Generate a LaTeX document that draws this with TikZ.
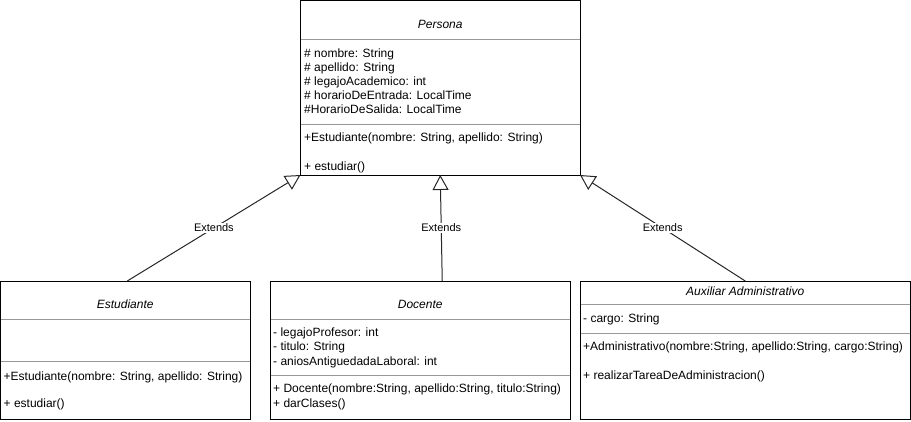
\documentclass[tikz,border=0pt]{standalone}
\usepackage{fontspec}
\setmainfont{Liberation Sans}
\usetikzlibrary{arrows.meta}

\begin{document}
\begin{tikzpicture}[x=1pt, y=-1pt,
        classbox/.style={draw=black, line width=1pt, anchor=north west, inner sep=0pt, outer sep=0pt},
        sep/.style={draw=black!40, line width=1pt},
        title/.style={font=\fontsize{12}{14}\selectfont\itshape, inner sep=0pt, text height=9pt, text depth=0pt},
        member/.style={anchor=west, font=\fontsize{12}{14}\selectfont, inner sep=0pt, text height=9pt, text depth=0pt},
        extends/.style={draw=black!85, line width=1pt, -{Triangle[open, length=15pt, width=16pt]}},
        lbl/.style={font=\fontsize{11}{13}\selectfont, fill=white, inner sep=1pt}]
    \useasboundingbox (0,0) rectangle (911,421);
    \node[classbox, minimum width=279.5pt, minimum height=174.5pt] (persona) at (300.5,0.5) {};
    \node[classbox, minimum width=249.5pt, minimum height=138.5pt] (estudiante) at (0.5,281) {};
    \node[classbox, minimum width=299.5pt, minimum height=138.5pt] (docente) at (270.5,281) {};
    \node[classbox, minimum width=329.5pt, minimum height=138.5pt] (auxiliar) at (580.5,281) {};
    \draw[sep] (persona.west |- 0,39.5) -- (persona.east |- 0,39.5);
    \draw[sep] (persona.west |- 0,124.5) -- (persona.east |- 0,124.5);
    \draw[sep] (estudiante.west |- 0,319.5) -- (estudiante.east |- 0,319.5);
    \draw[sep] (estudiante.west |- 0,361) -- (estudiante.east |- 0,361);
    \draw[sep] (docente.west |- 0,319.5) -- (docente.east |- 0,319.5);
    \draw[sep] (docente.west |- 0,375.5) -- (docente.east |- 0,375.5);
    \draw[sep] (auxiliar.west |- 0,304.5) -- (auxiliar.east |- 0,304.5);
    \draw[sep] (auxiliar.west |- 0,333) -- (auxiliar.east |- 0,333);
    \node[title] (personaName) at (persona.north |- 0,24) {Persona};
    \node[title] (estudianteName) at (estudiante.north |- 0,304) {Estudiante};
    \node[title] (docenteName) at (docente.north |- 0,304) {Docente};
    \node[title] (auxiliarName) at (auxiliar.north |- 0,290.5) {Auxiliar Administrativo};
    \foreach \txt [count=\i] in {{\# nombre: String}, {\# apellido: String}, {\# legajoAcademico: int},
            {\# horarioDeEntrada: LocalTime}, {\#HorarioDeSalida: LocalTime}}
        \node[member] (personaAttr\i) at (304, 52.5+14.2*\i-14.2) {\txt};
    \node[member] (personaOp1) at (304,137) {+Estudiante(nombre: String, apellido: String)};
    \node[member] (personaOp2) at (304,165.5) {+ estudiar()};
    \node[member] (estudianteOp1) at (3.5,375.5) {+Estudiante(nombre: String, apellido: String)};
    \node[member] (estudianteOp2) at (3.5,403) {+ estudiar()};
    \foreach \txt [count=\i] in {{- legajoProfesor: int}, {- titulo: String}, {- aniosAntiguedadaLaboral: int}}
        \node[member] (docenteAttr\i) at (273, 332+14.4*\i-14.4) {\txt};
    \node[member] (docenteOp1) at (273,388) {+ Docente(nombre:String, apellido:String, titulo:String)};
    \node[member] (docenteOp2) at (273,403) {+ darClases()};
    \node[member] (auxiliarAttr1) at (583,318) {- cargo: String};
    \node[member] (auxiliarOp1) at (583,345.5) {+Administrativo(nombre:String, apellido:String, cargo:String)};
    \node[member] (auxiliarOp2) at (583,374.5) {+ realizarTareaDeAdministracion()};
    \draw[extends] ([xshift=2pt]estudiante.north) -- node[lbl]{Extends} (persona.south west);
    \draw[extends] ([xshift=22pt]docente.north) -- node[lbl]{Extends} (persona.south);
    \draw[extends] (auxiliar.north) -- node[lbl]{Extends} (persona.south east);
\end{tikzpicture}
\end{document}
